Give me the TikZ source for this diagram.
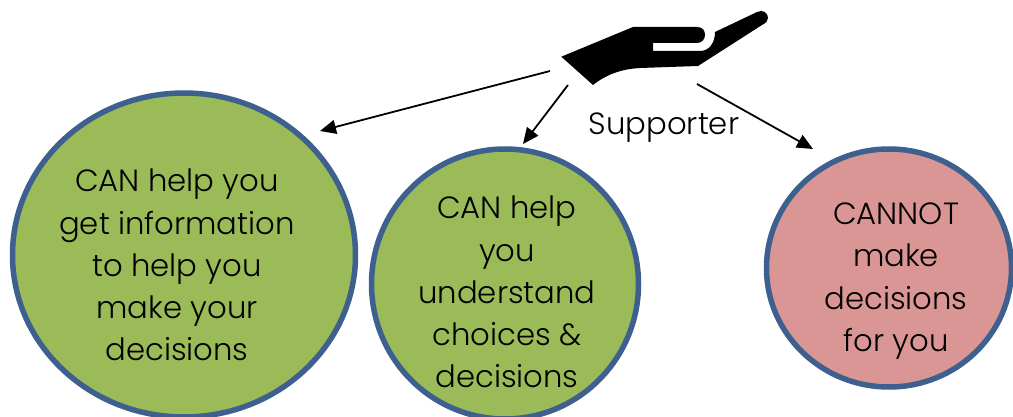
\documentclass[tikz,border=0pt]{standalone}
\usepackage{fontspec}
\setmainfont{Poppins Light}
\usetikzlibrary{arrows.meta,shapes.geometric}
\definecolor{ringblue}{RGB}{62,96,143}
\definecolor{leafgreen}{RGB}{155,187,89}
\definecolor{rosefill}{RGB}{217,150,148}
\tikzset{
  x=1pt,y=-1pt,
  bubble/.style={ellipse,draw=ringblue,line width=5.5pt,inner sep=0pt},
  bubbletext/.style={align=center,font=\fontsize{30.7}{42.2}\selectfont,text=black},
  arrowline/.style={draw=black,line width=1.8pt,-{Triangle[length=16pt,width=14pt]}}
}
\begin{document}
\begin{tikzpicture}
\useasboundingbox (0,0) rectangle (1013,417);
\clip (0,0) rectangle (1013,417);
\node[bubble,fill=leafgreen,minimum width=343pt,minimum height=324pt] (a) at (184,255) {};
\node[bubble,fill=leafgreen,minimum width=267pt,minimum height=270pt] (b) at (505,284) {};
\node[bubble,fill=rosefill,minimum width=245pt,minimum height=238pt] (c) at (889,268) {};
\node[bubbletext] (ta) at (177,265) {CAN help you\\get information\\to help you\\make your\\decisions};
\node[bubbletext] (tb) at (507,292) {CAN help\\you\\understand\\choices \&\\decisions};
\node[bubbletext] (tc) at (896,281) {CANNOT\\make\\decisions\\for you};
\node[font=\fontsize{30.7}{36}\selectfont,text=black] (sup) at (664,128) {Supporter};
\fill[black] (561.3,56.7) -- (633,27) -- (697,27)
  .. controls (703,27) and (705,31) .. (705,35)
  .. controls (705,39) and (702,43) .. (697,43)
  -- (653,43) -- (653,51) -- (700,51)
  .. controls (709,51) and (715,43) .. (715,32)
  -- (757,12)
  .. controls (763,9) and (768,13) .. (768,18)
  .. controls (768,21) and (766,23) .. (762,25)
  -- (698,66) -- (640,68)
  .. controls (622,69) and (607,74) .. (593,85) -- cycle;
\coordinate (h1) at (550,71);
\coordinate (h2) at (568,85);
\coordinate (h3) at (697,84);
\coordinate (e1) at (320,131);
\coordinate (e2) at (523,144);
\coordinate (e3) at (813,149);
\draw[arrowline] (h1) -- (e1);
\draw[arrowline] (h2) -- (e2);
\draw[arrowline] (h3) -- (e3);
\end{tikzpicture}
\end{document}
